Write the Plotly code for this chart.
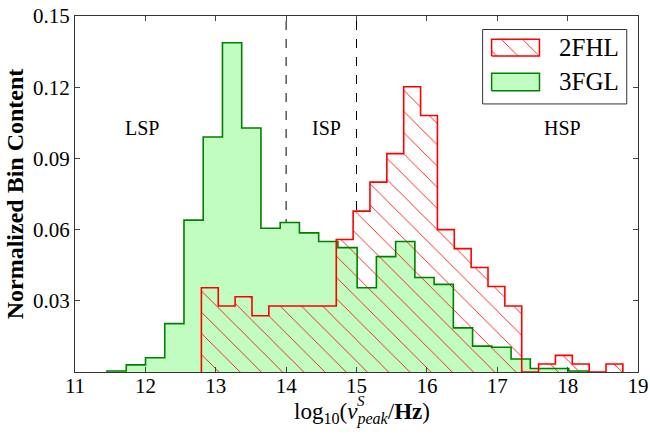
import numpy as np
import plotly.graph_objects as go

# ---- data ----
green_lo, green_hi = 11.455, 18.29          # 3FGL bin range
green_vals = [0.0004, 0.0030, 0.0060, 0.0204, 0.0640, 0.0990, 0.1387, 0.1028,
              0.0606, 0.0630, 0.0586, 0.0550, 0.0524, 0.0355, 0.0486, 0.0550,
              0.0398, 0.0369, 0.0186, 0.0109, 0.0104, 0.0055, 0.0015, 0.0015,
              0.0004]
red_lo, red_hi = 12.796, 18.785              # 2FHL bin range
red_vals = [0.0355, 0.0278, 0.0317, 0.0237, 0.0278, 0.0278, 0.0278, 0.0278,
            0.0558, 0.0678, 0.0800, 0.0920, 0.1202, 0.1081, 0.0600, 0.0520,
            0.0440, 0.0360, 0.0278, 0.0, 0.0034, 0.0070, 0.0034, 0.0, 0.0034]
series_names = ["2FHL", "3FGL"]
region_labels = ["LSP", "ISP", "HSP"]
region_x = [11.95, 14.58, 17.93]
region_y = 0.103
boundaries = [14, 15]
x_ticks = list(range(11, 20))
y_ticks = [0.03, 0.06, 0.09, 0.12, 0.15]
y_ticktext = ["0.03", "0.06", "0.09", "0.12", "0.15"]


def step_path(lo, hi, vals):
    edges = np.linspace(lo, hi, len(vals) + 1)
    x = [edges[0]] + list(edges[:-1]) + [edges[-1], edges[-1]]
    y = [0] + list(vals) + [vals[-1], 0]
    return x, y


gx, gy = step_path(green_lo, green_hi, green_vals)
rx, ry = step_path(red_lo, red_hi, red_vals)

FONT = "Liberation Serif"
RED = "#ff0000"
DKGREEN = "#008000"
LTGREEN = "#c1fdc1"
HATCH = dict(shape="\\", fgcolor=RED, bgcolor="rgba(0,0,0,0)", fgopacity=1,
             size=15, solidity=0.055, fillmode="overlay")

fig = go.Figure()
# white under-fill of 2FHL (hides dashed lines)
fig.add_trace(go.Scatter(x=rx, y=ry, mode="lines", line=dict(width=0, shape="hv"),
                         fill="tozeroy", fillcolor="white", hoverinfo="skip"))
# 3FGL fill
fig.add_trace(go.Scatter(x=gx, y=gy, mode="lines", line=dict(width=0, shape="hv"),
                         fill="tozeroy", fillcolor=LTGREEN, hoverinfo="skip"))
# 2FHL hatch
fig.add_trace(go.Scatter(x=rx, y=ry, mode="lines", line=dict(width=0, shape="hv"),
                         fill="tozeroy", fillcolor="rgba(0,0,0,0)",
                         fillpattern=HATCH, hoverinfo="skip"))
# outlines
fig.add_trace(go.Scatter(x=gx, y=gy, mode="lines", name=series_names[1],
                         line=dict(color=DKGREEN, width=1.6, shape="hv")))
fig.add_trace(go.Scatter(x=rx, y=ry, mode="lines", name=series_names[0],
                         line=dict(color=RED, width=1.6, shape="hv")))

# ---- hand-drawn legend on an overlay axis (paper-like 0..1 coords) ----
def rect(x0, x1, y0, y1):
    return [x0, x1, x1, x0, x0], [y0, y0, y1, y1, y0]

bx, by = rect(0.724, 0.980, 0.753, 0.9620)
fig.add_trace(go.Scatter(x=bx, y=by, xaxis="x2", yaxis="y2", mode="lines",
                         fill="toself", fillcolor="white",
                         line=dict(color="#333", width=1), hoverinfo="skip"))
sx, sy = rect(0.740, 0.825, 0.8876, 0.9346)
fig.add_trace(go.Scatter(x=sx, y=sy, xaxis="x2", yaxis="y2", mode="lines",
                         fill="toself", fillcolor="rgba(0,0,0,0)", fillpattern=HATCH,
                         line=dict(color=RED, width=1.5), hoverinfo="skip"))
sx, sy = rect(0.740, 0.825, 0.790, 0.839)
fig.add_trace(go.Scatter(x=sx, y=sy, xaxis="x2", yaxis="y2", mode="lines",
                         fill="toself", fillcolor=LTGREEN,
                         line=dict(color=DKGREEN, width=1.5), hoverinfo="skip"))
for name, yy in zip(series_names, [0.911, 0.815]):
    fig.add_annotation(x=0.857, y=yy, xref="paper", yref="paper", text=name,
                       xanchor="left", yanchor="middle", showarrow=False,
                       font=dict(family=FONT, size=25, color="black"))

for b in boundaries:
    fig.add_shape(type="line", x0=b, x1=b, y0=0, y1=0.15, xref="x", yref="y",
                  line=dict(color="black", width=1, dash="dash"), layer="below")

for lab, xx in zip(region_labels, region_x):
    fig.add_annotation(x=xx, y=region_y, text=lab, showarrow=False,
                       font=dict(family=FONT, size=20, color="black"))

# x-axis title (with stacked super/subscript on nu)
fig.add_annotation(x=0.51, y=-0.1152, xref="paper", yref="paper",
                   xanchor="center", yanchor="middle", showarrow=False,
                   text="log<sub>10</sub>(<i>ν</i><sub><i>peak</i></sub>/<b>Hz</b>)",
                   font=dict(family=FONT, size=23, color="black"))
fig.add_annotation(x=0.497, y=-0.0805, xref="paper", yref="paper",
                   xanchor="left", yanchor="middle", showarrow=False,
                   text="<i>S</i>", font=dict(family=FONT, size=15, color="black"))

fig.update_layout(
    width=650, height=437,
    margin=dict(l=75, r=12, t=16, b=65),
    paper_bgcolor="white", plot_bgcolor="white",
    font=dict(family=FONT, size=20, color="black"),
    showlegend=False,
    xaxis2=dict(overlaying="x", range=[0, 1], visible=False, fixedrange=True),
    yaxis2=dict(overlaying="y", range=[0, 1], visible=False, fixedrange=True),
)
fig.layout.xaxis.update(
    range=[11, 19], tickvals=x_ticks, ticks="inside", ticklen=5,
    showline=True, linecolor="#333", linewidth=1, mirror="ticks",
    showgrid=False, zeroline=False, automargin=False,
    tickfont=dict(family=FONT, size=21), ticklabelstandoff=-5)
fig.layout.yaxis.update(
    range=[0, 0.15], tickvals=y_ticks, ticktext=y_ticktext,
    ticks="inside", ticklen=5,
    showline=True, linecolor="#333", linewidth=1, mirror="ticks",
    showgrid=False, zeroline=False, automargin=False,
    tickfont=dict(family=FONT, size=21),
    title=dict(text="<b>Normalized Bin Content</b>",
               font=dict(family=FONT, size=24), standoff=2))

fig.write_html("out.html", config={"displayModeBar": False},
               post_script="document.body.style.margin='0px';document.body.style.padding='0px';")
